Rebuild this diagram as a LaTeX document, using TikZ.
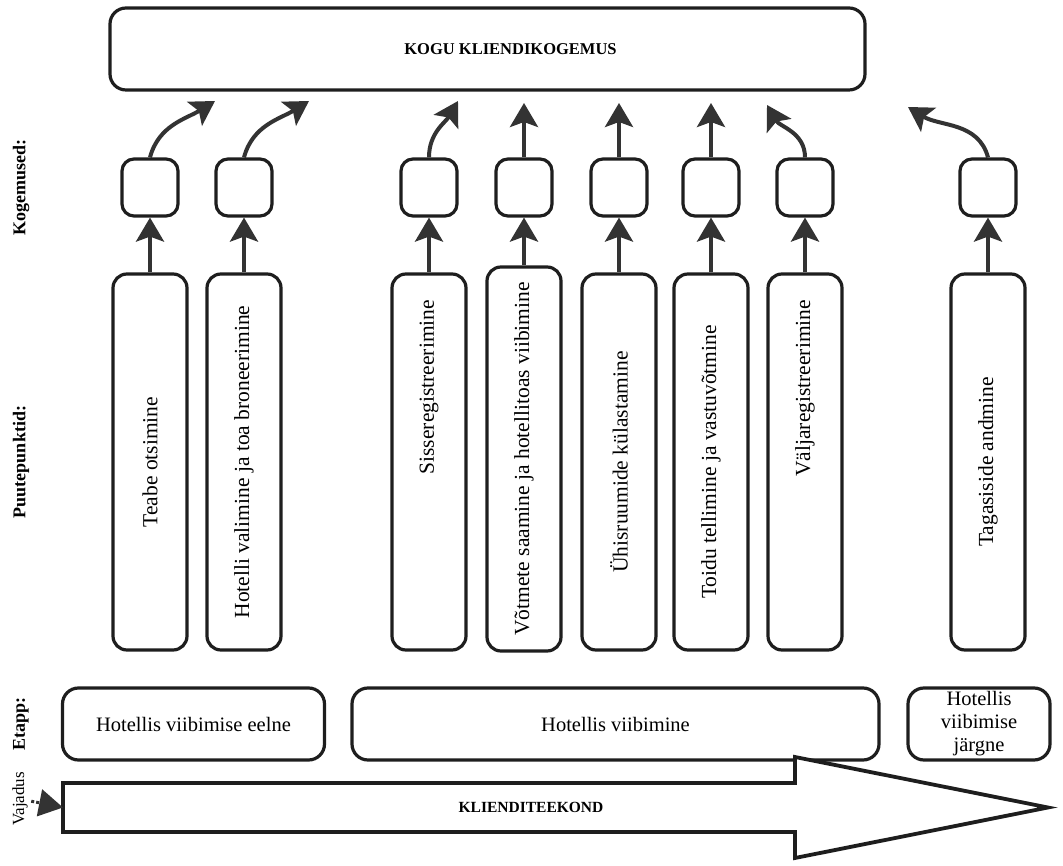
\documentclass[tikz,border=0pt]{standalone}
\usepackage{fontspec}
\setmainfont{Liberation Serif}
\usetikzlibrary{arrows.meta}
\definecolor{edge}{HTML}{1E1E1E}
\definecolor{arrowgray}{HTML}{333333}

\begin{document}
\begin{tikzpicture}[x=1pt, y=1pt,
      box/.style={draw=edge, line width=3.2pt, rounded corners=14pt, fill=white, inner sep=0pt,
                  align=center, font=\fontsize{20.5}{23}\selectfont},
      topbox/.style={box, rounded corners=16pt, minimum width=755pt, minimum height=82pt,
                     font=\fontsize{16.5}{19}\selectfont\bfseries},
      kbox/.style={box, rounded corners=12pt, minimum width=56pt, minimum height=57pt},
      pbox/.style={box, rotate=90, minimum width=376pt, minimum height=74pt,
                   font=\fontsize{21.5}{24}\selectfont},
      ebox/.style={box, rounded corners=16pt, minimum height=72pt},
      rowlabel/.style={rotate=90, font=\fontsize{18}{21}\selectfont\bfseries},
      arr/.style={-{Stealth[length=24pt, width=28pt, inset=5pt]}, line width=4pt, arrowgray}]
    \useasboundingbox (0,0) rectangle (1063,865);

    \node[topbox] (kogu) at (487.5,816) {\hspace*{46pt}KOGU KLIENDIKOGEMUS};

    \node[rowlabel] (lkog) at (21,677.5) {Kogemused:};
    \node[rowlabel] (lpuu) at (21,403) {Puutepunktid:};
    \node[rowlabel] (leta) at (21,141) {Etapp:};

    \node[pbox] (p1) at (150,403) {Teabe otsimine};
    \node[pbox] (p2) at (244,403) {Hotelli valimine ja toa broneerimine};
    \node[pbox, align=right, text width=324pt] (p3) at (429,403) {Sisseregistreerimine};
    \node[pbox, minimum width=384pt] (p4) at (524,406) {Võtmete saamine ja hotellitoas viibimine};
    \node[pbox] (p5) at (619,403) {Ühisruumide külastamine};
    \node[pbox] (p6) at (711,403) {Toidu tellimine ja vastuvõtmine};
    \node[pbox, align=right, text width=324pt] (p7) at (805,403) {Väljaregistreerimine};
    \node[pbox] (p8) at (988,403) {Tagasiside andmine};

    \node[kbox] (k1) at (150,677.5) {};
    \node[kbox] (k2) at (244,677.5) {};
    \node[kbox] (k3) at (429,677.5) {};
    \node[kbox] (k4) at (524,677.5) {};
    \node[kbox] (k5) at (619,677.5) {};
    \node[kbox] (k6) at (711,677.5) {};
    \node[kbox] (k7) at (805,677.5) {};
    \node[kbox] (k8) at (988,677.5) {};

    \draw[arr] (p1) -- (k1);
    \draw[arr] (p2) -- (k2);
    \draw[arr] (p3) -- (k3);
    \draw[arr] (p4) -- (k4);
    \draw[arr] (p5) -- (k5);
    \draw[arr] (p6) -- (k6);
    \draw[arr] (p7) -- (k7);
    \draw[arr] (p8) -- (k8);

    \coordinate (t1) at (215,764);
    \coordinate (t2) at (309,764);
    \coordinate (t3) at (458,764);
    \coordinate (t4) at (524,762);
    \coordinate (t5) at (619,762);
    \coordinate (t6) at (711,762);
    \coordinate (t7) at (767,760);
    \coordinate (t8) at (908,758);
    \draw[arr] (k1.north) to[out=75, in=212] (t1);
    \draw[arr] (k2.north) to[out=75, in=212] (t2);
    \draw[arr] (k3.north) to[out=90, in=240] (t3);
    \draw[arr] (k4.north) -- (t4);
    \draw[arr] (k5.north) -- (t5);
    \draw[arr] (k6.north) -- (t6);
    \draw[arr] (k7.north) to[out=90, in=-60] (t7);
    \draw[arr] (k8.north) to[out=105, in=-32] (t8);

    \node[ebox, minimum width=262pt] (e1) at (193.5,141) {Hotellis viibimise eelne};
    \node[ebox, minimum width=527pt] (e2) at (615.5,141) {Hotellis viibimine};
    \node[ebox, minimum width=142pt] (e3) at (979,141) {Hotellis\\viibimise\\järgne};

    \draw[edge, line width=3.8pt, fill=white] (63,82) -- (795,82) -- (795,108) -- (1048,57.5)
      -- (795,7) -- (795,33) -- (63,33) -- cycle;
    \node[font=\fontsize{15.5}{18}\selectfont\bfseries] (teekond) at (531,57.5) {KLIENDITEEKOND};

    \node[rotate=90, font=\fontsize{17}{20}\selectfont] (vajadus) at (20,66) {Vajadus};
    \coordinate (algus) at (63,57.5);
    \draw[arrowgray, line width=3pt, dotted, -{Triangle[length=24pt, width=27pt]}] (vajadus) -- (algus);
  \end{tikzpicture}
\end{document}
